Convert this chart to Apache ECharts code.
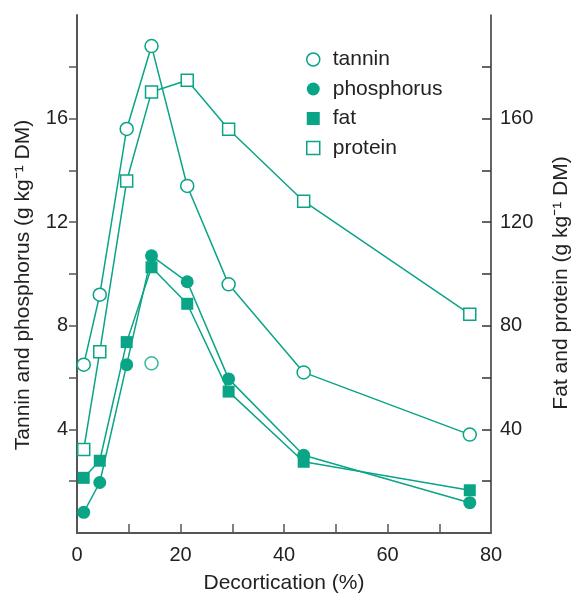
<!DOCTYPE html>
<html>
<head>
<meta charset="utf-8">
<script src="https://cdn.jsdelivr.net/npm/echarts@6/dist/echarts.min.js"></script>
<style>
  html, body { margin: 0; padding: 0; background: #fff; }
  #main { width: 571px; height: 595px; }
</style>
</head>
<body>
<div id="main"></div>
<script>
// decortication levels (%)
var decortication = [1.3, 4.4, 9.6, 14.4, 21.3, 29.3, 43.8, 75.9];
// left axis, g/kg DM
var tannin = [6.5, 9.2, 15.6, 18.8, 13.4, 9.6, 6.2, 3.8];
var tanninExtra = [[14.4, 6.55]];
var phosphorus = [0.8, 1.95, 6.5, 10.7, 9.7, 5.95, 3.0, 1.17];
// right axis, g/kg DM
var fat = [21.3, 27.9, 73.7, 102.6, 88.5, 54.6, 27.5, 16.5];
var protein = [32.2, 70, 135.9, 170.3, 174.8, 155.9, 128.1, 84.5];

var xTicks = [10, 20, 30, 40, 50, 60, 70];
var xLabels = [0, 20, 40, 60, 80];
var leftTicks = [2, 4, 6, 8, 10, 12, 14, 16, 18];
var leftLabels = [4, 8, 12, 16];
var rightTicks = [20, 40, 60, 80, 100, 120, 140, 160, 180];
var rightLabels = [40, 80, 120, 160];

var teal = '#0aa487';
var font = '"Liberation Sans", Arial, Helvetica, sans-serif';

function pairs(ys) {
    return decortication.map(function (x, i) { return [x, ys[i]]; });
}

var myChart = echarts.init(document.getElementById('main'));

var emptyStyle = { color: '#fff', borderColor: teal, borderWidth: 1.5 };
var filledStyle = { color: teal, borderColor: teal, borderWidth: 0 };
var lineStyle = { color: teal, width: 1.5 };

var option = {
    animation: false,
    textStyle: { fontFamily: font },
    grid: { left: 77, right: 80, top: 15, bottom: 62, outerBoundsMode: 'none' },
    legend: {
        orient: 'vertical',
        left: 301,
        top: 44,
        itemWidth: 13,
        itemHeight: 13,
        itemGap: 8.5,
        textStyle: { fontSize: 21, color: '#222', fontFamily: font, padding: [0, 0, 0, 8] },
        data: [
            { name: 'tannin', icon: 'circle', itemStyle: emptyStyle },
            { name: 'phosphorus', icon: 'circle', itemStyle: filledStyle },
            { name: 'fat', icon: 'rect', itemStyle: filledStyle },
            { name: 'protein', icon: 'rect', itemStyle: emptyStyle }
        ]
    },
    xAxis: {
        type: 'value',
        min: 0,
        max: 80,
        interval: 10,
        name: 'Decortication (%)',
        nameLocation: 'middle',
        nameGap: 40,
        nameTextStyle: { fontSize: 21, color: '#222' },
        axisLine: { lineStyle: { color: '#555', width: 2 } },
        axisTick: { inside: true, length: 9, customValues: xTicks, lineStyle: { color: '#555', width: 1.5 } },
        axisLabel: { customValues: xLabels, fontSize: 20, color: '#222', margin: 12 },
        splitLine: { show: false }
    },
    yAxis: [
        {
            type: 'value',
            position: 'left',
            min: 0,
            max: 20,
            interval: 2,
            name: 'Tannin and phosphorus (g kg⁻¹ DM)',
            nameLocation: 'middle',
            nameGap: 43,
            nameTextStyle: { fontSize: 21, color: '#222', padding: [0, 22, 0, 0] },
            axisLine: { show: true, lineStyle: { color: '#555', width: 2 } },
            axisTick: { inside: false, length: 8, customValues: leftTicks, lineStyle: { color: '#555', width: 1.5 } },
            axisLabel: { customValues: leftLabels, fontSize: 20, color: '#222', margin: 9 },
            splitLine: { show: false }
        },
        {
            type: 'value',
            position: 'right',
            min: 0,
            max: 200,
            interval: 20,
            name: 'Fat and protein (g kg⁻¹ DM)',
            nameLocation: 'middle',
            nameGap: 60,
            nameTextStyle: { fontSize: 21, color: '#222', padding: [0, 18, 0, 0] },
            axisLine: { show: true, lineStyle: { color: '#333', width: 1.5 } },
            axisTick: { inside: true, length: 9, customValues: rightTicks, lineStyle: { color: '#333', width: 1.5 } },
            axisLabel: { customValues: rightLabels, fontSize: 20, color: '#222', margin: 9 },
            splitLine: { show: false }
        }
    ],
    series: [
        {
            name: 'protein',
            type: 'line',
            yAxisIndex: 1,
            data: pairs(protein),
            symbol: 'rect',
            symbolSize: 12,
            itemStyle: emptyStyle,
            lineStyle: lineStyle,
            emphasis: { disabled: true }
        },
        {
            name: 'tannin',
            type: 'line',
            yAxisIndex: 0,
            data: pairs(tannin),
            symbol: 'circle',
            symbolSize: 13,
            itemStyle: emptyStyle,
            lineStyle: lineStyle,
            emphasis: { disabled: true }
        },
        {
            name: 'tannin extra',
            type: 'scatter',
            yAxisIndex: 0,
            data: tanninExtra,
            symbol: 'circle',
            symbolSize: 13,
            itemStyle: emptyStyle,
            emphasis: { disabled: true }
        },
        {
            name: 'fat',
            type: 'line',
            yAxisIndex: 1,
            data: pairs(fat),
            symbol: 'rect',
            symbolSize: 12,
            itemStyle: filledStyle,
            lineStyle: lineStyle,
            emphasis: { disabled: true }
        },
        {
            name: 'phosphorus',
            type: 'line',
            yAxisIndex: 0,
            data: pairs(phosphorus),
            symbol: 'circle',
            symbolSize: 13,
            itemStyle: filledStyle,
            lineStyle: lineStyle,
            emphasis: { disabled: true }
        }
    ]
};

myChart.setOption(option);
</script>
</body>
</html>
